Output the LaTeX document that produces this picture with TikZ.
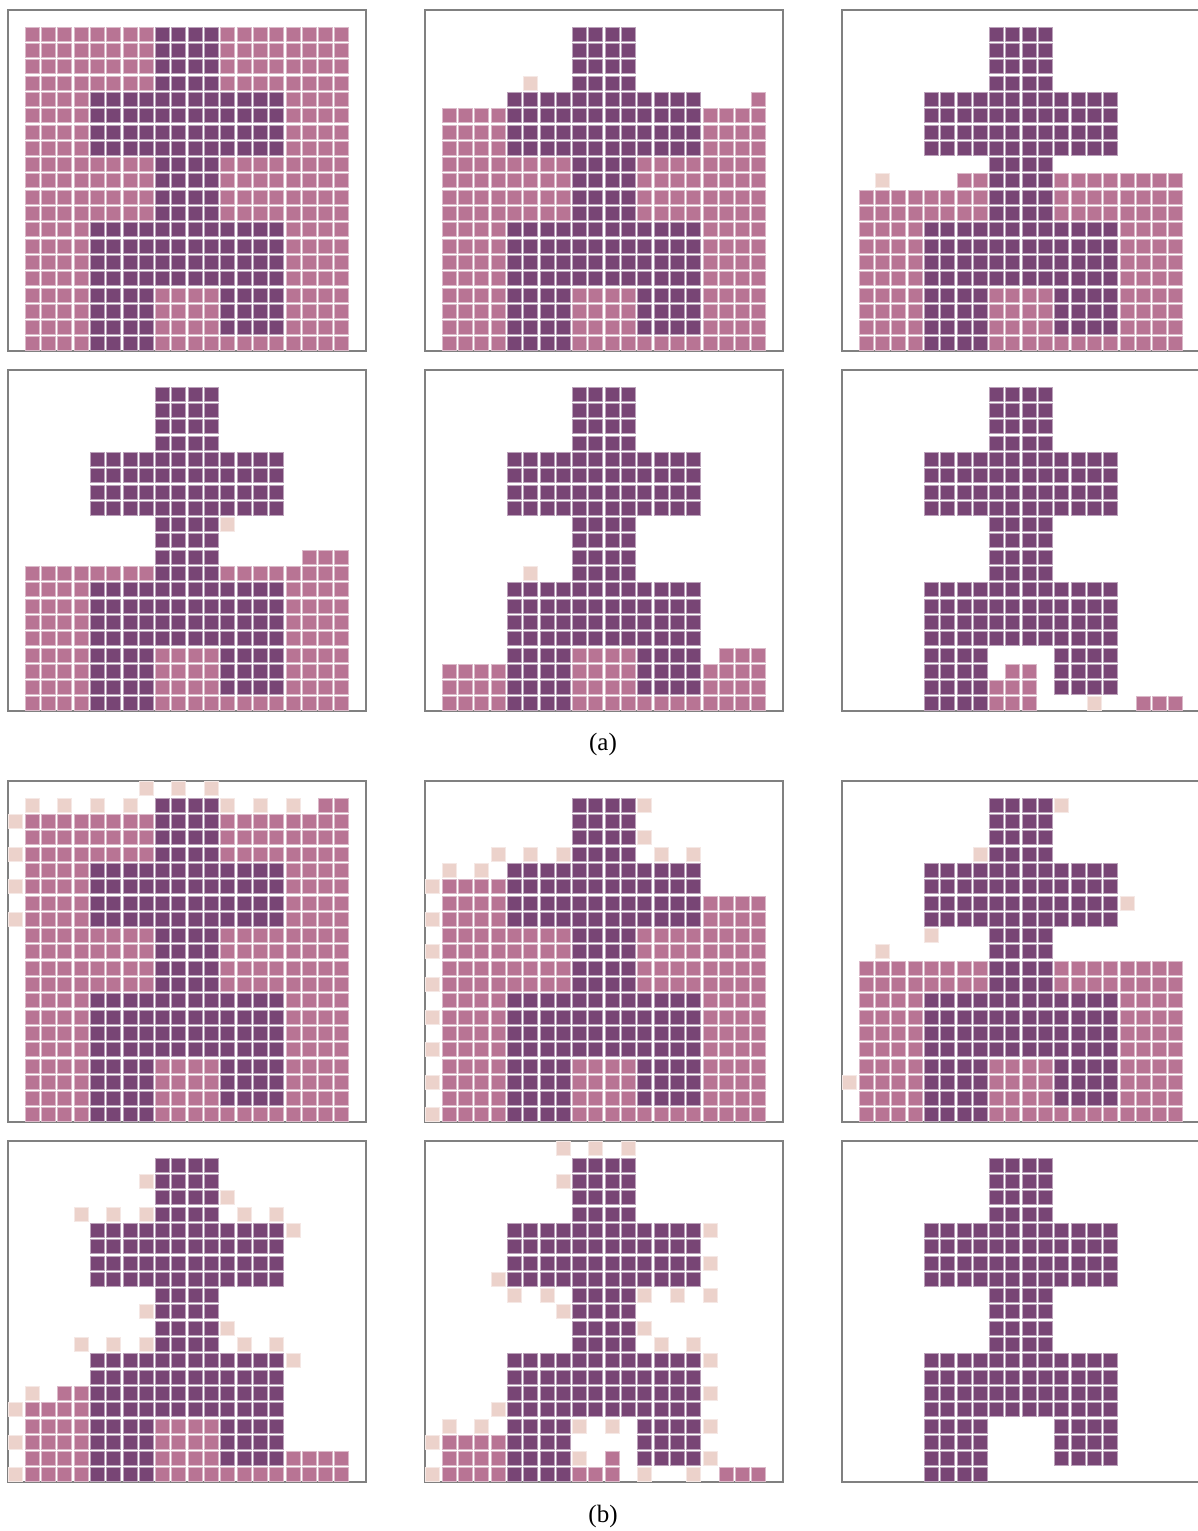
\documentclass[tikz,border=0pt]{standalone}
\usepackage{fontspec}
\setmainfont{Liberation Serif}
\usepackage{tikz}
\tikzset{
	nodes={align=center},%
	darkcell/.style={%
			fill=cdark,%
			draw=cdark!50!white,%
			line width=0.6pt},%
	pinkcell/.style={%
			fill=cpink,%
			draw=cpink!50!white,%
			line width=0.6pt},%
	palecell/.style={%
			fill=cpale,%
			draw=cpale!50!white,%
			line width=0.6pt},%
	panelbox/.style={%
			draw=cframe,%
			line width=1.2pt},%
	caption/.style={%
			font={\fontsize{25}{30}\selectfont},%
			inner sep=0pt},%
	panel/.style 2 args={%
			shift={(#1pt,-#2pt)},%
			x=16.3pt,%
			y=-16.3pt},%
}
\definecolor{cdark}{RGB}{120, 69, 117}
\definecolor{cpink}{RGB}{184, 116, 148}
\definecolor{cpale}{RGB}{236, 210, 203}
\definecolor{cframe}{RGB}{128, 128, 128}
% style, first col, last col, first row, last row
\newcommand{\cellblock}[5]{%
	\foreach \cc in {#2,...,#3}{%
		\foreach \rr in {#4,...,#5}{%
			\path[#1] (\cc,\rr) rectangle ++(0.86,0.86);}}}
\newcommand{\cellset}[2]{%
	\foreach \cc/\rr in {#2}{%
		\path[#1] (\cc,\rr) rectangle ++(0.86,0.86);}}
\newcommand{\darkman}{%
	\cellblock{darkcell}{8}{11}{0}{3}%
	\cellblock{darkcell}{4}{15}{4}{7}%
	\cellblock{darkcell}{8}{11}{8}{11}%
	\cellblock{darkcell}{4}{15}{12}{15}%
	\cellblock{darkcell}{4}{7}{16}{19}%
	\cellblock{darkcell}{12}{15}{16}{18}}
\newcommand{\panelframe}{\path[panelbox] (-1.04,-1.04) rectangle (20.92,19.88);}

\begin{document}
\begin{tikzpicture}
	\useasboundingbox (0pt,0pt) rectangle (1198pt,-1531pt);

	% (a)
	\begin{scope}[panel={25}{27}]
		\panelframe
		\cellblock{pinkcell}{0}{19}{0}{19}
		\darkman
	\end{scope}

	\begin{scope}[panel={442}{27}]
		\panelframe
		\cellblock{pinkcell}{0}{19}{5}{19}
		\cellset{pinkcell}{19/4}
		\cellset{palecell}{5/3}
		\darkman
	\end{scope}

	\begin{scope}[panel={859}{27}]
		\panelframe
		\cellblock{pinkcell}{0}{19}{10}{19}
		\cellblock{pinkcell}{6}{19}{9}{9}
		\cellset{palecell}{1/9}
		\darkman
	\end{scope}

	\begin{scope}[panel={25}{387}]
		\panelframe
		\cellblock{pinkcell}{0}{19}{11}{19}
		\cellblock{pinkcell}{17}{19}{10}{10}
		\cellset{palecell}{12/8}
		\darkman
	\end{scope}

	\begin{scope}[panel={442}{387}]
		\panelframe
		\cellblock{pinkcell}{0}{19}{17}{19}
		\cellblock{pinkcell}{8}{11}{16}{16}
		\cellblock{pinkcell}{17}{19}{16}{16}
		\cellset{palecell}{5/11}
		\darkman
	\end{scope}

	\begin{scope}[panel={859}{387}]
		\panelframe
		\cellblock{pinkcell}{9}{10}{17}{17}
		\cellblock{pinkcell}{8}{10}{18}{19}
		\cellblock{pinkcell}{17}{19}{19}{19}
		\cellset{palecell}{14/19}
		\darkman
	\end{scope}

	\node[caption] (capa) at (603pt,-744pt) {(a)};

	% (b)
	\begin{scope}[panel={25}{798}]
		\panelframe
		\cellblock{pinkcell}{0}{19}{1}{19}
		\cellblock{pinkcell}{18}{19}{0}{0}
		\cellset{palecell}{7/-1, 9/-1, 11/-1, 0/0, 2/0, 4/0, 6/0, 12/0, 14/0, 16/0,
			-1/1, -1/3, -1/5, -1/7}
		\darkman
	\end{scope}

	\begin{scope}[panel={442}{798}]
		\panelframe
		\cellblock{pinkcell}{0}{19}{6}{19}
		\cellblock{pinkcell}{0}{3}{5}{5}
		\cellset{palecell}{12/0, 12/2, 3/3, 5/3, 7/3, 13/3, 15/3, 0/4, 2/4,
			-1/5, -1/7, -1/9, -1/11, -1/13, -1/15, -1/17, -1/19}
		\darkman
	\end{scope}

	\begin{scope}[panel={859}{798}]
		\panelframe
		\cellblock{pinkcell}{0}{19}{10}{19}
		\cellset{palecell}{12/0, 7/3, 16/6, 4/8, 1/9, -1/17}
		\darkman
	\end{scope}

	\begin{scope}[panel={25}{1158}]
		\panelframe
		\cellblock{pinkcell}{0}{19}{18}{19}
		\cellblock{pinkcell}{0}{11}{16}{17}
		\cellblock{pinkcell}{0}{3}{15}{15}
		\cellblock{pinkcell}{2}{3}{14}{14}
		\cellset{palecell}{7/1, 12/2, 3/3, 5/3, 7/3, 13/3, 15/3, 16/4, 7/9, 12/10,
			3/11, 5/11, 7/11, 13/11, 15/11, 16/12, 0/14, -1/15, -1/17, -1/19}
		\darkman
	\end{scope}

	\begin{scope}[panel={442}{1158}]
		\panelframe
		\cellblock{pinkcell}{0}{3}{17}{19}
		\cellblock{pinkcell}{8}{10}{19}{19}
		\cellblock{pinkcell}{17}{19}{19}{19}
		\cellset{pinkcell}{10/18}
		\cellset{palecell}{7/-1, 9/-1, 11/-1, 7/1, 16/4, 16/6, 3/7, 4/8, 6/8, 12/8,
			14/8, 16/8, 7/9, 12/10, 13/11, 15/11, 16/12, 16/14, 3/15, 0/16, 2/16,
			8/16, 10/16, 16/16, -1/17, 8/18, 16/18, -1/19, 12/19, 15/19}
		\darkman
	\end{scope}

	\begin{scope}[panel={859}{1158}]
		\panelframe
		\darkman
	\end{scope}

	\node[caption] (capb) at (603pt,-1516pt) {(b)};
\end{tikzpicture}
\end{document}
